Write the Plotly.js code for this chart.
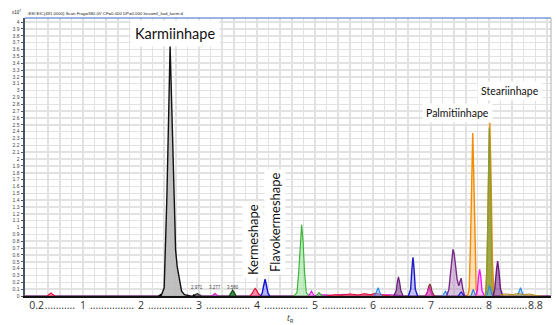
<!DOCTYPE html>
<html>
<head>
<meta charset="utf-8">
<script src="https://cdn.plot.ly/plotly-3.0.1.min.js"></script>
<style>html,body{margin:0;padding:0;background:#fff;}#chart{width:556px;height:325px;}</style>
</head>
<body>
<div id="chart"></div>
<script>
// ---- data (x: retention time, y: counts x10^7) ----
const baseT = [0, 9.07];
const baseY = [0.004, 0.004];

const redSmallT = [0.38, 0.42, 0.45, 0.48, 0.52];
const redSmallY = [0, 0.02, 0.045, 0.02, 0];

const karmT = [2.30, 2.36, 2.40, 2.424, 2.445, 2.464, 2.485, 2.502, 2.52, 2.55, 2.575, 2.597, 2.626, 2.66, 2.70, 2.75, 2.85];
const karmY = [0, 0.03, 0.12, 0.67, 1.4, 2.13, 3.1, 3.66, 3.1, 2.13, 1.2, 0.67, 0.42, 0.25, 0.07, 0.02, 0];

const p2971T = [2.90, 2.94, 2.97, 3.00, 3.04];
const p2971Y = [0.005, 0.02, 0.035, 0.02, 0.005];
const p3277T = [3.22, 3.25, 3.277, 3.30, 3.33];
const p3277Y = [0, 0.02, 0.035, 0.02, 0];
const p3580T = [3.52, 3.55, 3.58, 3.61, 3.64];
const p3580Y = [0, 0.05, 0.085, 0.05, 0];

const kermRedT = [3.88, 3.92, 3.95, 3.97, 3.99, 4.02, 4.06];
const kermRedY = [0, 0.04, 0.09, 0.11, 0.09, 0.04, 0];
const kermBlueT = [4.06, 4.09, 4.115, 4.14, 4.165, 4.19, 4.22];
const kermBlueY = [0, 0.04, 0.15, 0.245, 0.15, 0.04, 0];

const flavoT = [4.64, 4.69, 4.72, 4.745, 4.77, 4.795, 4.82, 4.85, 4.90];
const flavoY = [0, 0.05, 0.35, 0.8, 1.04, 0.8, 0.35, 0.05, 0];
const mag494T = [4.89, 4.92, 4.94, 4.96, 4.99];
const mag494Y = [0, 0.04, 0.07, 0.04, 0];
const grn507T = [5.02, 5.05, 5.07, 5.09, 5.12];
const grn507Y = [0, 0.03, 0.05, 0.03, 0];

const noiseRedT = [5.2, 5.35, 5.45, 5.6, 5.75, 5.85, 5.95, 6.05, 6.2, 6.3];
const noiseRedY = [0, 0.02, 0.01, 0.03, 0.015, 0.035, 0.02, 0.04, 0.01, 0];
const noiseMagT = [5.0, 5.15, 5.3, 5.5, 5.7, 5.9, 6.1, 6.3, 6.5];
const noiseMagY = [0.01, 0.02, 0.01, 0.025, 0.01, 0.02, 0.015, 0.02, 0.005];

const lb609T = [6.03, 6.07, 6.09, 6.11, 6.15];
const lb609Y = [0, 0.07, 0.12, 0.07, 0];
const pur644T = [6.36, 6.40, 6.42, 6.44, 6.46, 6.48, 6.52];
const pur644Y = [0, 0.08, 0.2, 0.28, 0.2, 0.08, 0];
const blue669T = [6.61, 6.65, 6.67, 6.69, 6.71, 6.73, 6.77];
const blue669Y = [0, 0.1, 0.38, 0.565, 0.38, 0.1, 0];
const brn698T = [6.90, 6.94, 6.96, 6.98, 7.00, 7.02, 7.06];
const brn698Y = [0, 0.06, 0.14, 0.175, 0.14, 0.06, 0];
const mag697T = [6.91, 6.94, 6.97, 7.00, 7.03];
const mag697Y = [0, 0.06, 0.13, 0.06, 0];
const lb725T = [7.20, 7.23, 7.25, 7.27, 7.30];
const lb725Y = [0, 0.04, 0.07, 0.04, 0];
const pur738T = [7.27, 7.31, 7.34, 7.36, 7.38, 7.40, 7.42, 7.45, 7.48, 7.50, 7.52, 7.55, 7.58];
const pur738Y = [0, 0.1, 0.35, 0.58, 0.68, 0.62, 0.45, 0.25, 0.15, 0.2, 0.26, 0.1, 0];
const blue752T = [7.47, 7.50, 7.52, 7.54, 7.57];
const blue752Y = [0, 0.04, 0.06, 0.04, 0];
const palmT = [7.63, 7.66, 7.68, 7.70, 7.72, 7.74, 7.76, 7.78, 7.81];
const palmY = [0, 0.1, 0.7, 1.7, 2.38, 1.7, 0.7, 0.1, 0];
const lb773T = [7.69, 7.71, 7.73, 7.75, 7.77];
const lb773Y = [0, 0.05, 0.1, 0.05, 0];
const mag784T = [7.77, 7.80, 7.82, 7.84, 7.86, 7.88, 7.92];
const mag784Y = [0, 0.08, 0.28, 0.39, 0.28, 0.08, 0];
const stearOrT = [7.94, 7.97, 7.995, 8.015, 8.035, 8.06, 8.09];
const stearOrY = [0, 0.5, 1.8, 2.53, 1.8, 0.5, 0];
const stearT = [7.93, 7.955, 7.975, 7.99, 8.005, 8.02, 8.035, 8.055, 8.08];
const stearY = [0, 0.15, 0.9, 2.0, 2.45, 2.0, 0.9, 0.15, 0];
const lb801T = [7.96, 7.99, 8.01, 8.03, 8.06];
const lb801Y = [0, 0.08, 0.15, 0.08, 0];
const pur815T = [8.07, 8.10, 8.13, 8.15, 8.17, 8.20, 8.24];
const pur815Y = [0, 0.1, 0.38, 0.51, 0.38, 0.1, 0];
const lb855T = [8.49, 8.52, 8.545, 8.57, 8.60];
const lb855Y = [0, 0.06, 0.12, 0.06, 0];
const noiseOlT = [8.2, 8.3, 8.4, 8.5, 8.6, 8.7, 8.8, 8.9];
const noiseOlY = [0.02, 0.03, 0.02, 0.035, 0.02, 0.03, 0.01, 0];

const markT = [2.34, 2.91];
const markY = [0, 0];

const smallLblT = [2.971, 3.277, 3.580];
const smallLblText = ['2.971', '3.277', '3.580'];

const peakNames = ['Karmiinhape', 'Kermeshape', 'Flavokermeshape', 'Palmitiinhape', 'Steariinhape'];

const xTickVals = [0.2, 0.6, 1, 1.5, 2, 2.5, 3, 3.5, 4, 4.5, 5, 5.5, 6, 6.5, 7, 7.5, 8, 8.4, 8.8];
const D = '................';
const xTickText = ['0.2', '...........', '1', D, '2', D, '3', D, '4', D, '5', D, '6', D, '7', D, '8', '...........', '8.8'];

// ---- traces ----
function peak(t, y, line, fill, w) {
  return {x: t, y: y, type: 'scatter', mode: 'lines', fill: fill ? 'tozeroy' : 'none',
          fillcolor: fill || 'rgba(0,0,0,0)', line: {color: line, width: w || 1.2}, hoverinfo: 'skip'};
}
const traces = [
  peak(baseT, baseY, '#7a3a7a', null, 1),
  peak(redSmallT, redSmallY, '#e0103a', 'rgba(255,90,120,0.6)'),
  peak(noiseMagT, noiseMagY, '#d020c0', null, 1),
  peak(noiseRedT, noiseRedY, '#e01030', 'rgba(255,80,80,0.5)', 1),
  peak(karmT, karmY, '#111111', 'rgba(185,185,185,0.9)', 1.4),
  peak(p2971T, p2971Y, '#333333', 'rgba(90,90,90,0.6)'),
  peak(p3277T, p3277Y, '#c020c0', 'rgba(220,90,220,0.6)'),
  peak(p3580T, p3580Y, '#1a4a1a', 'rgba(20,110,30,0.8)'),
  peak(kermRedT, kermRedY, '#e0103a', 'rgba(255,80,130,0.65)'),
  peak(kermBlueT, kermBlueY, '#1010d0', 'rgba(110,110,240,0.5)', 1.4),
  peak(flavoT, flavoY, '#3cb43c', 'rgba(150,225,150,0.55)'),
  peak(mag494T, mag494Y, '#e020e0', 'rgba(240,120,240,0.6)'),
  peak(grn507T, grn507Y, '#3cb43c', 'rgba(150,225,150,0.6)'),
  peak(lb609T, lb609Y, '#2c8cf0', 'rgba(120,180,250,0.5)'),
  peak(pur644T, pur644Y, '#6a1a7a', 'rgba(110,50,130,0.55)'),
  peak(blue669T, blue669Y, '#1a1ac8', 'rgba(120,120,230,0.45)', 1.4),
  peak(brn698T, brn698Y, '#7a3030', 'rgba(140,60,60,0.55)'),
  peak(mag697T, mag697Y, '#e020c0', 'rgba(240,100,220,0.5)'),
  peak(lb725T, lb725Y, '#2c8cf0', 'rgba(120,180,250,0.5)'),
  peak(pur738T, pur738Y, '#7a2a8a', 'rgba(175,125,185,0.45)', 1.4),
  peak(blue752T, blue752Y, '#1a1ac8', 'rgba(120,120,230,0.45)'),
  peak(palmT, palmY, '#f08c00', 'rgba(255,200,140,0.6)', 1.4),
  peak(lb773T, lb773Y, '#2c8cf0', 'rgba(120,180,250,0.5)'),
  peak(mag784T, mag784Y, '#f010f0', 'rgba(250,150,250,0.55)', 1.3),
  peak(stearOrT, stearOrY, '#f08c00', 'rgba(255,200,140,0.6)', 1.4),
  peak(stearT, stearY, '#8a9a30', 'rgba(140,155,45,0.8)', 1.2),
  peak(lb801T, lb801Y, '#2c8cf0', 'rgba(120,180,250,0.5)'),
  peak(pur815T, pur815Y, '#6a1a7a', 'rgba(120,50,140,0.6)', 1.4),
  peak(lb855T, lb855Y, '#2c8cf0', 'rgba(120,180,250,0.5)'),
  peak(noiseOlT, noiseOlY, '#b08a20', 'rgba(200,170,60,0.5)', 1),
  {x: markT, y: markY, type: 'scatter', mode: 'markers', marker: {symbol: 'triangle-up', size: 4, color: '#000'}, hoverinfo: 'skip'},
  {x: [], y: [], xaxis: 'x2', type: 'scatter', mode: 'lines', hoverinfo: 'skip'}
];

const annFont = 'Lato, "Open Sans", sans-serif';
const annotations = [
  {xref: 'paper', yref: 'paper', x: 0, y: 1, xanchor: 'left', yanchor: 'bottom', yshift: 0, showarrow: false,
   text: '-ESI EIC(491.0000) Scan Frag=380.0V CF=0.000 DP=0.000 kesamil_kad_karm.d',
   font: {family: 'Liberation Sans', size: 4.3, color: '#222'}},
  {xref: 'paper', yref: 'paper', x: 0, y: 1, xanchor: 'right', yanchor: 'bottom', xshift: -2, yshift: 1, showarrow: false,
   text: 'x10<sup>7</sup>', font: {family: 'Liberation Sans', size: 4.5, color: '#222'}},
  {xref: 'paper', yref: 'paper', x: 0.505, y: 0, yanchor: 'top', yshift: -14, showarrow: false,
   text: '<i>t</i><sub>R</sub>', font: {family: 'Open Sans', size: 8.5, color: '#333'}},
  {x: 2.58, y: 3.84, text: peakNames[0], showarrow: false, bgcolor: '#fff', borderpad: 4,
   font: {family: annFont, size: 14.5, color: '#111'}},
  {x: 3.93, y: 0.83, text: peakNames[1], textangle: -90, showarrow: false, bgcolor: '#fff', borderpad: 2,
   font: {family: annFont, size: 13, color: '#111'}},
  {x: 4.31, y: 1.08, text: peakNames[2], textangle: -90, showarrow: false, bgcolor: '#fff', borderpad: 2,
   font: {family: annFont, size: 13, color: '#111'}},
  {x: 7.45, y: 2.67, text: peakNames[3], showarrow: false, bgcolor: '#fff', borderpad: 3,
   font: {family: annFont, size: 10.5, color: '#111'}},
  {x: 8.36, y: 3.0, text: peakNames[4], showarrow: false, bgcolor: '#fff', borderpad: 3,
   font: {family: annFont, size: 10.5, color: '#111'}}
];
smallLblT.forEach((t, i) => annotations.push({x: t, y: 0.06, yanchor: 'bottom', text: smallLblText[i], showarrow: false,
  font: {family: 'Liberation Sans', size: 4.5, color: '#444'}}));

const layout = {
  width: 556, height: 325,
  margin: {l: 25, r: 5, t: 18, b: 29, pad: 0},
  paper_bgcolor: '#fff', plot_bgcolor: '#fff',
  showlegend: false, hovermode: false,
  xaxis: {range: [0, 9.07], tick0: 0, dtick: 0.2, showgrid: true, gridcolor: '#e2e2e2', gridwidth: 1.5,
          showticklabels: false, ticks: '', showline: true, linecolor: '#111', linewidth: 2, zeroline: false, fixedrange: true},
  xaxis2: {overlaying: 'x', anchor: 'y', side: 'bottom', range: [0, 9.07], tickmode: 'array', tickvals: xTickVals,
           ticktext: xTickText, showgrid: false, showline: false, ticks: '', tickangle: 0, zeroline: false,
           ticklabelstandoff: 1, tickfont: {family: 'Open Sans', size: 10.5, color: '#333'}, fixedrange: true},
  yaxis: {range: [0, 4.06], tick0: 0, dtick: 0.1, showgrid: true, gridcolor: '#e2e2e2', gridwidth: 1.5,
          ticks: 'outside', ticklen: 2, tickwidth: 1, tickcolor: '#555', showline: true, linecolor: '#4a5568', linewidth: 2.5,
          zeroline: false, tickfont: {family: 'Liberation Sans', size: 5, color: '#444'}, fixedrange: true},
  shapes: [
    {type: 'line', xref: 'paper', yref: 'paper', x0: 0, x1: 1, y0: 1, y1: 1, line: {color: '#3a6ac0', width: 1}},
    {type: 'line', xref: 'paper', yref: 'paper', x0: 1, x1: 1, y0: 0, y1: 1, line: {color: '#b0b0b0', width: 1}}
  ],
  annotations: annotations
};

Plotly.newPlot('chart', traces, layout, {staticPlot: true, displayModeBar: false});
</script>
</body>
</html>
